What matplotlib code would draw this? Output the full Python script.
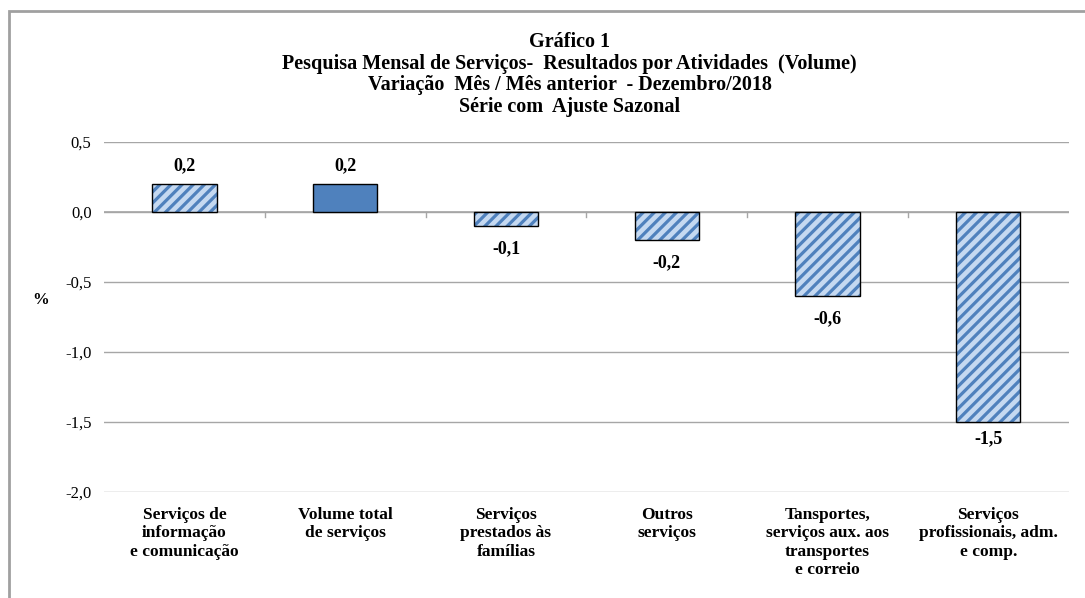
import numpy as np
import matplotlib
matplotlib.use("Agg")
import matplotlib.pyplot as plt
from matplotlib.patches import Rectangle

plt.rcParams['font.family'] = ['Liberation Serif', 'DejaVu Serif']
plt.rcParams['hatch.linewidth'] = 2.3

# Data
categories = ["Serviços de\ninformação\ne comunicação",
              "Volume total\nde serviços",
              "Serviços\nprestados às\nfamílias",
              "Outros\nserviços",
              "Tansportes,\nserviços aux. aos\ntransportes\ne correio",
              "Serviços\nprofissionais, adm.\ne comp."]
values = [0.2, 0.2, -0.1, -0.2, -0.6, -1.5]
value_labels = ["0,2", "0,2", "-0,1", "-0,2", "-0,6", "-1,5"]
hatched = [True, False, True, True, True, True]
yticks = [0.5, 0.0, -0.5, -1.0, -1.5, -2.0]
ytick_labels = ["0,5", "0,0", "-0,5", "-1,0", "-1,5", "-2,0"]

title = ("Gráfico 1\n"
         "Pesquisa Mensal de Serviços-  Resultados por Atividades  (Volume)\n"
         "Variação  Mês / Mês anterior  - Dezembro/2018\n"
         "Série com  Ajuste Sazonal")

dark_blue = "#4F81BD"
light_blue = "#C5D9F1"
grid_gray = "#A6A6A6"

fig = plt.figure(figsize=(10.85, 5.98), dpi=100)
ax = fig.add_axes([0.0959, 0.1773, 0.889, 0.5852])

x = np.arange(len(values))
width = 0.40
for xi, v, h in zip(x, values, hatched):
    if h:
        ax.bar(xi, v, width, color=light_blue, edgecolor=dark_blue,
               hatch="///", linewidth=0, zorder=3)
        ax.bar(xi, v, width, fill=False, edgecolor="black",
               linewidth=1.0, zorder=4)
    else:
        ax.bar(xi, v, width, color=dark_blue, edgecolor="black",
               linewidth=1.0, zorder=3)

for xi, v, lab in zip(x, values, value_labels):
    if v >= 0:
        ax.annotate(lab, (xi, v), xytext=(0, 7), textcoords="offset points",
                    ha="center", va="bottom", fontsize=13, fontweight="bold")
    else:
        # the lowest label sits a little closer to its bar, as in Excel
        pad = -6 if v <= -1.5 else -10
        ax.annotate(lab, (xi, v), xytext=(0, pad), textcoords="offset points",
                    ha="center", va="top", fontsize=13, fontweight="bold")

ax.set_xlim(-0.5, len(values) - 0.5)
ax.set_ylim(-2.0, 0.5)
ax.set_yticks(yticks)
ax.set_yticklabels(ytick_labels, fontsize=12)
ax.yaxis.grid(True, color=grid_gray, linewidth=1.0, zorder=0)
ax.tick_params(axis="y", length=0, pad=9)
ax.set_xticks([])
for s in ax.spines.values():
    s.set_visible(False)

# zero line with category separators
ax.axhline(0, color=grid_gray, linewidth=1.2, zorder=2)
for b in np.arange(0.5, len(values) - 0.5, 1.0):
    ax.plot([b, b], [0, -0.035], color=grid_gray, linewidth=1.0, zorder=2)

for xi, lab in zip(x, categories):
    ax.annotate(lab, (xi, -2.0), xytext=(0, -11), textcoords="offset points",
                ha="center", va="top", fontsize=12.5, fontweight="bold",
                linespacing=1.18)

fig.text(0.037, 0.498, "%", ha="center", va="center", fontsize=12,
         fontweight="bold")
fig.text(0.525, 0.9465, title, ha="center", va="top", fontsize=14.5,
         fontweight="bold", linespacing=1.11)

# outer frame
fig.patches.append(Rectangle((9 / 1085, -0.05), 1.2, 1 - 11 / 598 + 0.05,
                             transform=fig.transFigure, fill=False,
                             edgecolor="#A0A0A0", linewidth=2))

fig.savefig("out.png", dpi=100)
